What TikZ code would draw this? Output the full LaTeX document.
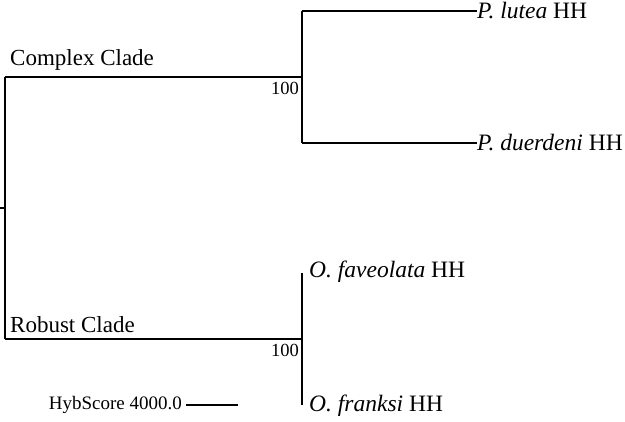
\documentclass[tikz,border=0pt]{standalone}
\usepackage{fontspec}
\setmainfont{Liberation Serif}
\usetikzlibrary{positioning}

\tikzset{
  branch/.style={line width=1.5pt},
  leaf/.style={anchor=west, inner sep=0pt, font=\fontsize{23.5}{27}\selectfont},
  clade/.style={anchor=south west, inner sep=0pt, font=\fontsize{23}{27}\selectfont},
  boot/.style={anchor=north east, inner sep=0pt, font=\fontsize{18.5}{22}\selectfont}
}

\begin{document}
\begin{tikzpicture}[x=1pt,y=-1pt]
\useasboundingbox (0,0) rectangle (625,422);

\coordinate (stub) at (0,208);
\coordinate (root) at (5,208);
\coordinate (rc) at (5,77);
\coordinate (rr) at (5,339);
\coordinate (c) at (302,77);
\coordinate (r) at (302,339);
\coordinate (c1) at (302,11);
\coordinate (c2) at (302,143);
\coordinate (r1) at (302,273);
\coordinate (r2) at (302,405);

\node[leaf] (lutea) at (477,11) {\textit{P. lutea} HH};
\node[leaf] (duerdeni) at (477,143) {\textit{P. duerdeni} HH};
\node[leaf] (faveolata) at (309,272) {\textit{O. faveolata} HH};
\node[leaf] (franksi) at (309,406) {\textit{O. franksi} HH};

\node[clade] (complex) at (10,71) {Complex Clade};
\node[clade] (robust) at (10,333) {Robust Clade};
\node[boot] (bc) at (299,82) {100};
\node[boot] (br) at (299,344) {100};

\node[anchor=east, inner sep=0pt, font=\fontsize{19}{22}\selectfont] (hyb) at (182,405) {HybScore 4000.0};
\coordinate (sa) at (186,405);
\coordinate (sb) at (238,405);

\draw[branch] (stub) -- (root);
\draw[branch] (rc) -- (rr);
\draw[branch] (rc) -- (c);
\draw[branch] (rr) -- (r);
\draw[branch] (c1) -- (c2);
\draw[branch] (r1) -- (r2);
\draw[branch] (c1) -- (lutea.west);
\draw[branch] (c2) -- (duerdeni.west);
\draw[branch] (sa) -- (sb);
\end{tikzpicture}
\end{document}
